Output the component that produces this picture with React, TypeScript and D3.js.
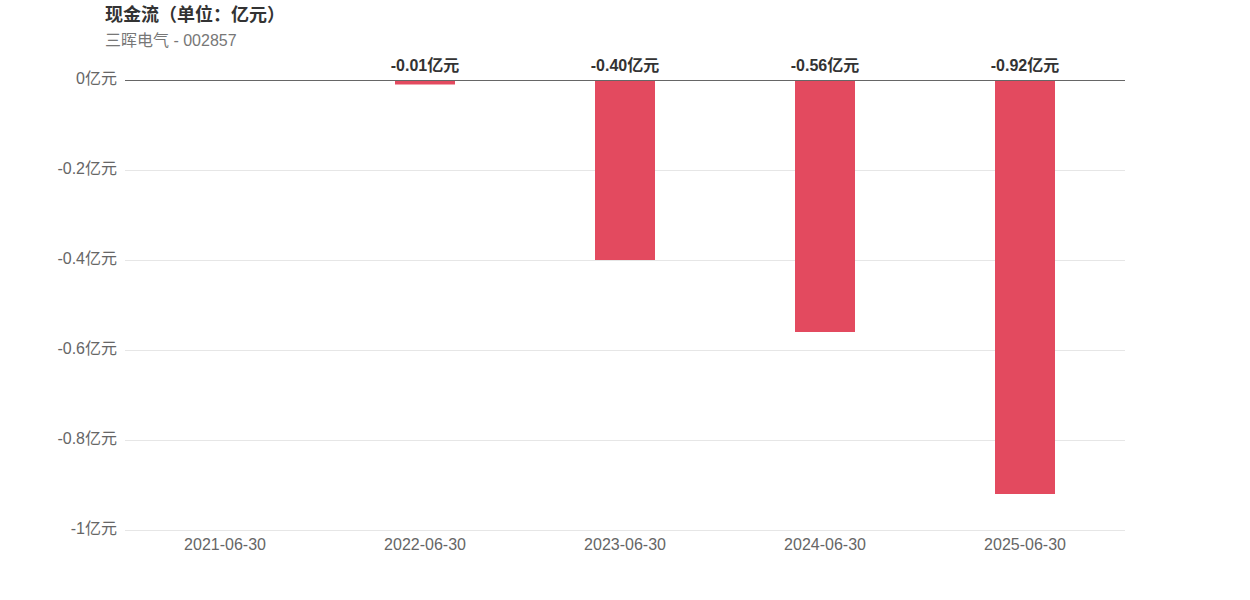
import React from "react";
import * as d3 from "d3";

// Chart data
const categories: string[] = ["2021-06-30", "2022-06-30", "2023-06-30", "2024-06-30", "2025-06-30"];
const values: (number | null)[] = [null, -0.01, -0.4, -0.56, -0.92];
const yTicks: number[] = [0, -0.2, -0.4, -0.6, -0.8, -1];

const App: React.FC = () => {
    const width = 1250;
    const height = 600;
    const marginLeft = 125;
    const marginRight = 125;
    const marginTop = 80;
    const marginBottom = 70;

    const font = "'Liberation Sans', Arial, 'Noto Sans CJK SC', sans-serif";

    const xScale = d3.scaleBand<string>()
        .domain(categories)
        .range([marginLeft, width - marginRight]);

    const yScale = d3.scaleLinear()
        .domain([-1, 0])
        .range([height - marginBottom, marginTop]);

    const barWidth = 60;
    const fmtTick = (t: number) => `${+t.toFixed(1)}亿元`;

    return (
        <svg width={width} height={height} style={{ position: "absolute", left: 0, top: 0, fontFamily: font }}>
            {/* Title */}
            <text x={105} y={20.5} fontSize={18} fontWeight={700} fill="#333" fontFamily="'Noto Sans CJK SC', 'Liberation Sans', sans-serif">现金流（单位：亿元）</text>
            <text x={105} y={46} fontSize={16} fill="#777">三晖电气 - 002857</text>

            {/* Grid lines */}
            {yTicks.filter(t => t !== 0).map(t => (
                <line key={t} x1={marginLeft} x2={width - marginRight} y1={yScale(t) + 0.5} y2={yScale(t) + 0.5} stroke="#e6e6e6" />
            ))}

            {/* Y tick labels */}
            {yTicks.map(t => (
                <text key={`yl-${t}`} x={117} y={yScale(t) - 2} dy="0.35em" textAnchor="end" fontSize={16} fill="#666">
                    {fmtTick(t)}
                </text>
            ))}

            {/* Bars */}
            {categories.map((c, i) => {
                const v = values[i];
                if (v === null) return null;
                const cx = xScale(c)! + xScale.bandwidth() / 2;
                const y0 = yScale(0);
                const y1 = yScale(v);
                return (
                    <g key={c}>
                        <rect x={cx - barWidth / 2} y={y0} width={barWidth} height={y1 - y0} fill="#e34a5f" />
                        <text x={cx} y={71} textAnchor="middle" fontSize={16} fontWeight="bold" fill="#333">
                            {`${v.toFixed(2)}亿元`}
                        </text>
                    </g>
                );
            })}

            {/* Zero line */}
            <line x1={marginLeft} x2={width - marginRight} y1={yScale(0) + 0.5} y2={yScale(0) + 0.5} stroke="#666" />

            {/* X labels */}
            {categories.map(c => (
                <text key={c} x={xScale(c)! + xScale.bandwidth() / 2} y={height - marginBottom + 20} textAnchor="middle" fontSize={16} fill="#666">
                    {c}
                </text>
            ))}
        </svg>
    );
};

export default App;
